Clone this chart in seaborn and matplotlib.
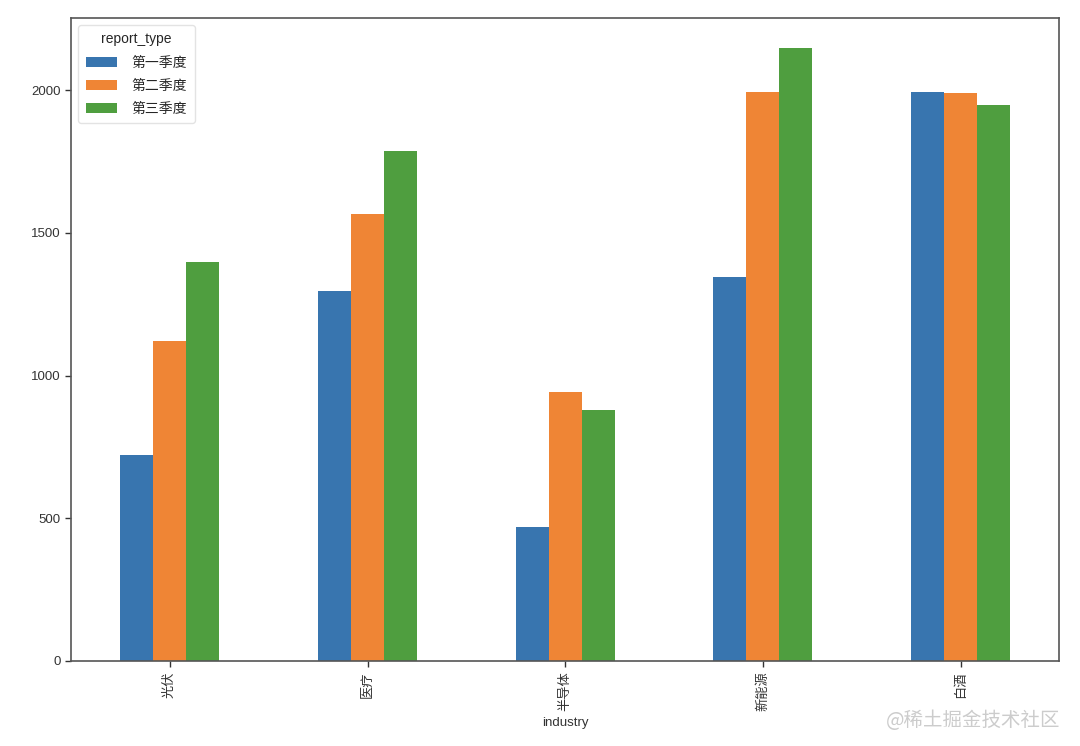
import matplotlib
matplotlib.use("Agg")
import matplotlib.pyplot as plt
import seaborn as sns
import pandas as pd

industries = ["光伏", "医疗", "半导体", "新能源", "白酒"]
report_types = ["第一季度", "第二季度", "第三季度"]
q1_values = [720, 1296, 470, 1344, 1992]
q2_values = [1121, 1565, 941, 1995, 1991]
q3_values = [1399, 1787, 880, 2146, 1949]
colors = ["#3875af", "#ef8535", "#4f9e3f"]

sns.set_style("white")
plt.rcParams["font.family"] = ["Liberation Sans", "Noto Sans CJK SC", "DejaVu Sans"]

rows = []
for ind, a, b, c in zip(industries, q1_values, q2_values, q3_values):
    rows.append((ind, report_types[0], a))
    rows.append((ind, report_types[1], b))
    rows.append((ind, report_types[2], c))
df = pd.DataFrame(rows, columns=["industry", "report_type", "value"])

fig = plt.figure(figsize=(10.8, 7.46), dpi=100)
ax = fig.add_axes([0.0657, 0.114, 0.9153, 0.862])
sns.barplot(data=df, x="industry", y="value", hue="report_type",
            order=industries, hue_order=report_types, palette=colors,
            saturation=1, width=0.5, errorbar=None, ax=ax, linewidth=0)

ax.set_xlim(-0.5, 4.5)
ax.set_ylim(0, 2253)
ax.set_yticks([0, 500, 1000, 1500, 2000])
ax.set_ylabel("")
ax.set_xlabel("industry", fontsize=9.5, color="#333333")
ax.tick_params(axis="x", rotation=90, labelsize=9.5, colors="#333333", length=4, width=1, direction="out", bottom=True)
ax.tick_params(axis="y", labelsize=9.5, colors="#333333", length=4, width=1, direction="out", left=True)
for s in ax.spines.values():
    s.set_visible(True)
    s.set_color("#555555")
    s.set_linewidth(1.2)

leg = ax.legend(title="report_type", loc="upper left", fontsize=10, title_fontsize=10,
                frameon=True, handlelength=2.3, borderpad=0.55, labelspacing=0.65,
                handletextpad=1.0)
leg.get_frame().set_edgecolor("#dddddd")

fig.text(0.982, 0.02, "@稀土掘金技术社区", ha="right", va="bottom", fontsize=14,
         color="#cccccc", family=["Noto Sans CJK SC", "DejaVu Sans"])

fig.savefig("out.png", dpi=100)
